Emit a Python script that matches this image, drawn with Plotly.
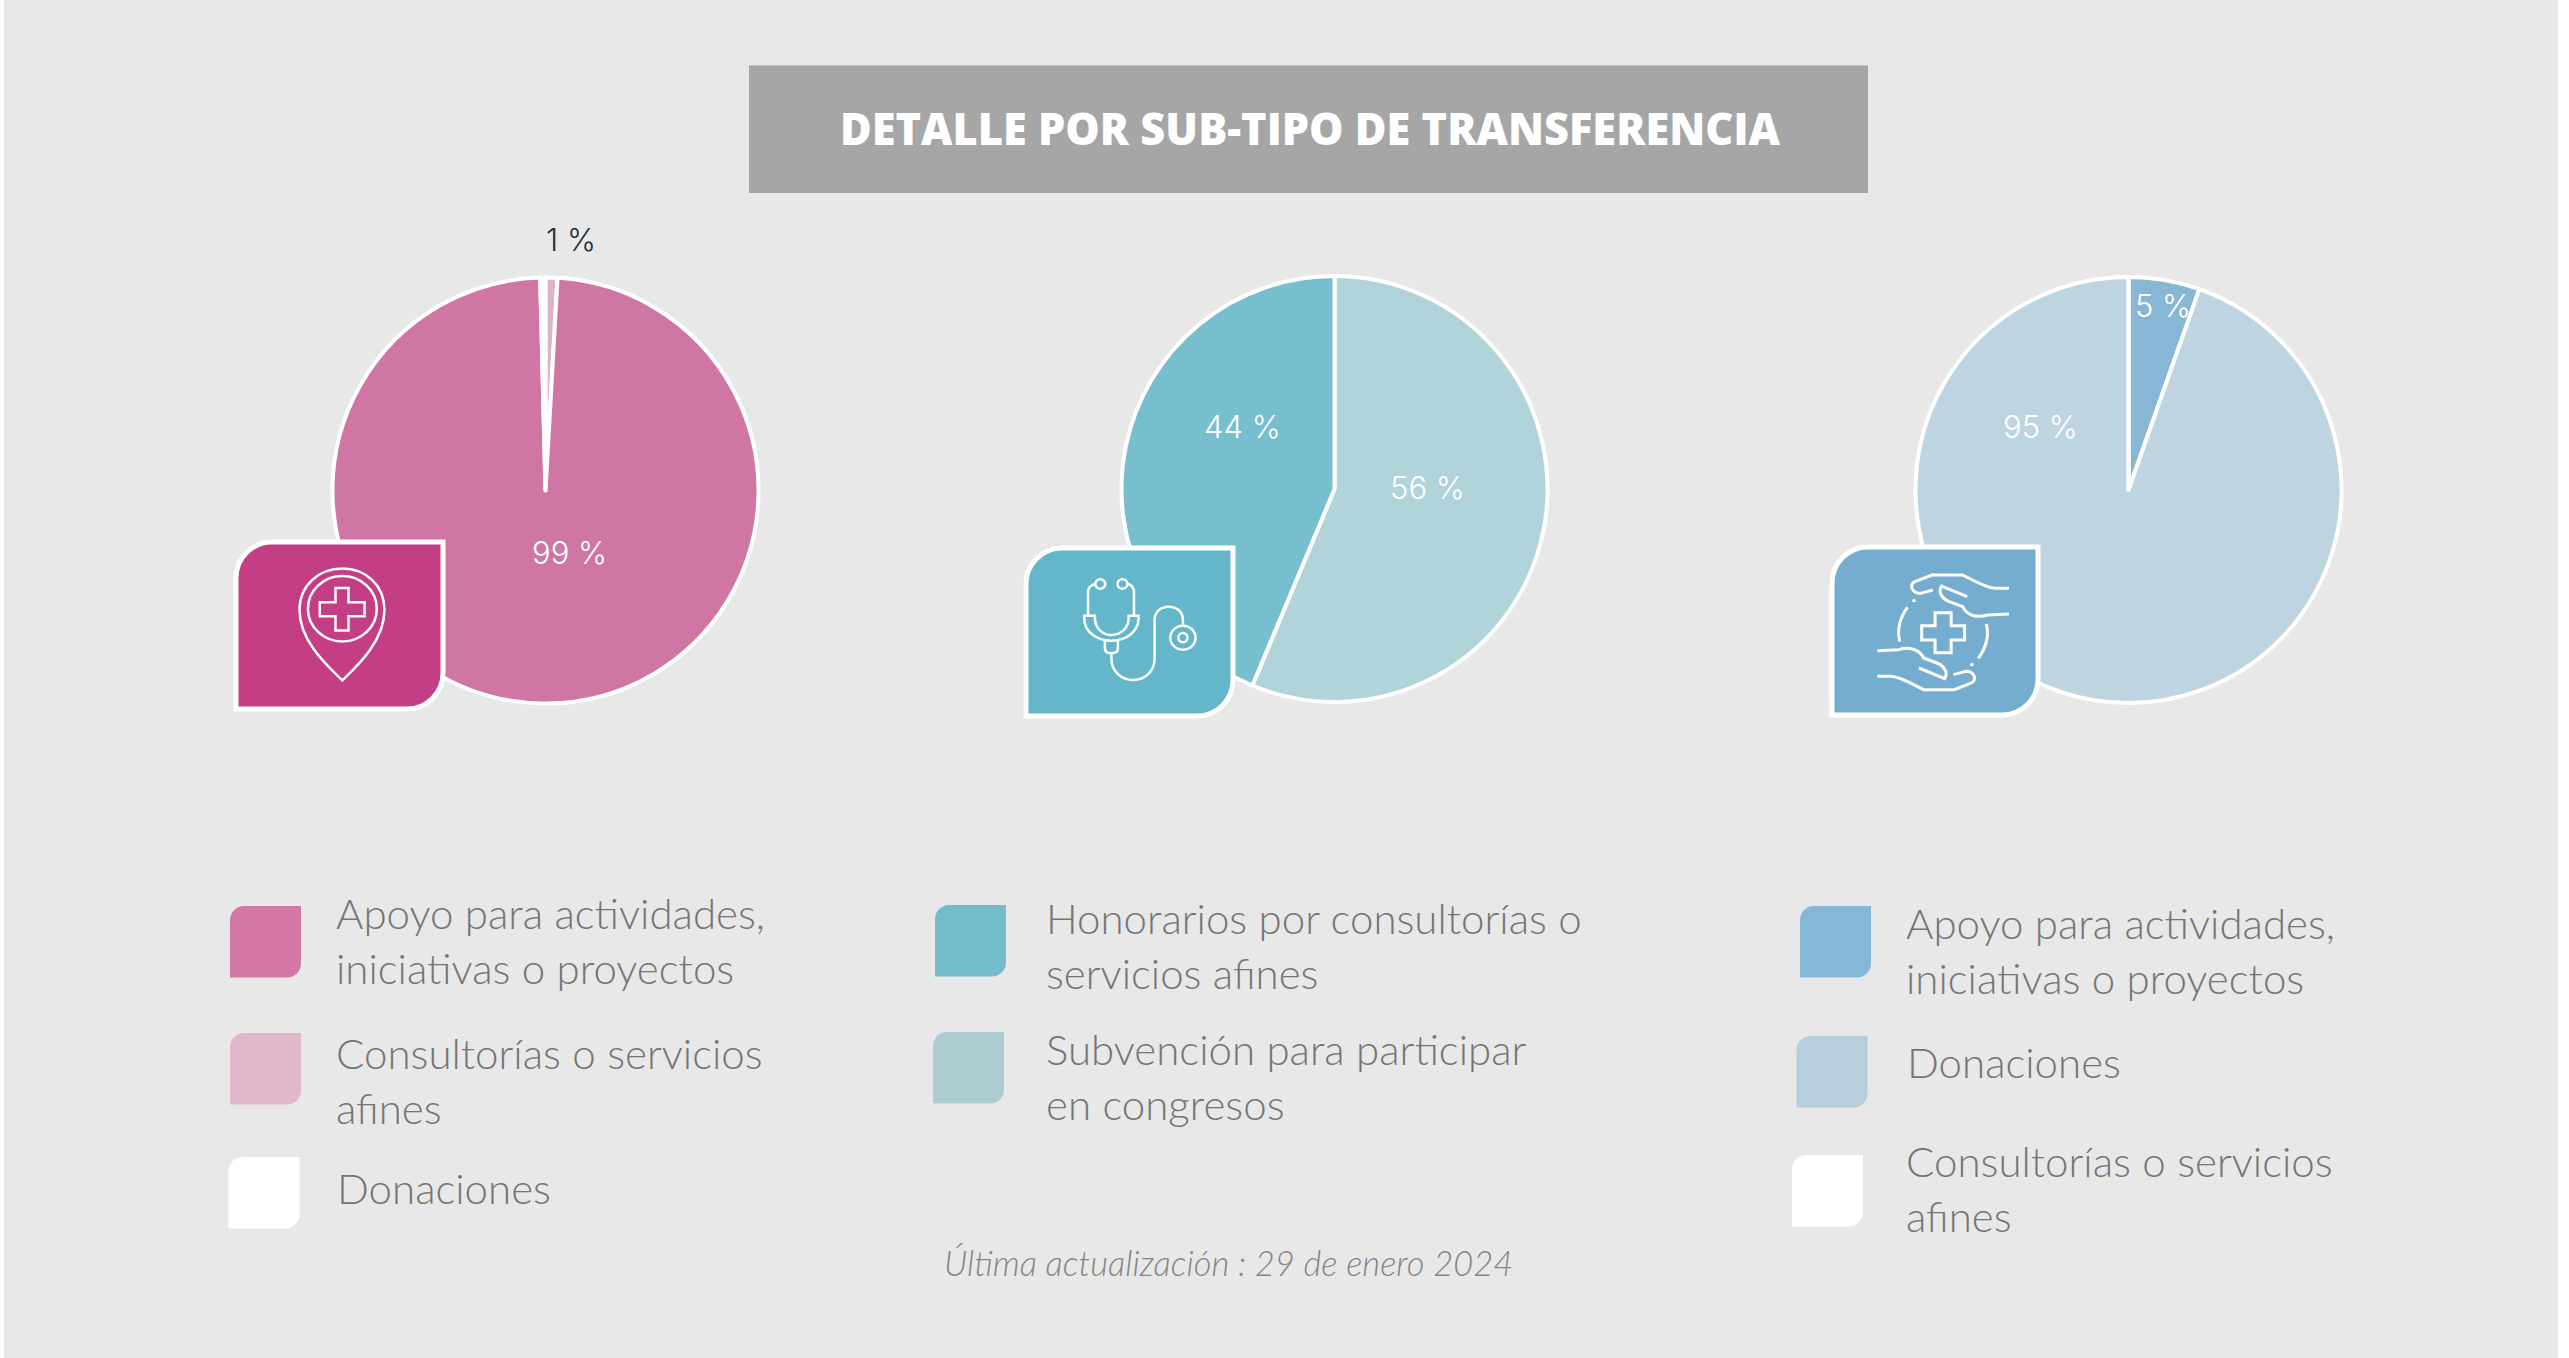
import re
import plotly.graph_objects as go

W, H = 2569, 1358

title_text = "DETALLE POR SUB-TIPO DE TRANSFERENCIA"
footer_text = "<i>Última actualización : 29 de enero 2024</i>"

pie1_labels = ["Consultorías o servicios afines", "Apoyo para actividades, iniciativas o proyectos", "Donaciones"]
pie1_values = [0.9, 98.7, 0.4]
pie1_colors = ["#DDB3CB", "#D076A5", "#FFFFFF"]

pie2_labels = ["Subvención para participar en congresos", "Honorarios por consultorías o servicios afines"]
pie2_values = [56.3, 43.7]
pie2_colors = ["#B1D4DA", "#77BECE"]

pie3_labels = ["Apoyo para actividades, iniciativas o proyectos", "Donaciones", "Consultorías o servicios afines"]
pie3_values = [5.4, 94.6, 0]
pie3_colors = ["#87B7D5", "#BED4E1", "#FFFFFF"]

BG = "#E8E8E8"
TXT = "#757575"
LEG_FONT = "Lato"

fig = go.Figure()


def fx(x):
    return x / W


def fy(y):
    return 1 - y / H


def add_pie(labels, values, colors, cx, cy, r):
    fig.add_trace(go.Pie(
        labels=labels, values=values, sort=False, direction="clockwise", rotation=0,
        marker=dict(colors=colors, line=dict(color="white", width=4)),
        textinfo="none", hoverinfo="label+percent", showlegend=False,
        domain=dict(x=[fx(cx - r), fx(cx + r)], y=[fy(cy + r), fy(cy - r)]),
    ))


add_pie(pie1_labels, pie1_values, pie1_colors, 545.5, 490.5, 213)
add_pie(pie2_labels, pie2_values, pie2_colors, 1334.5, 489, 213)
add_pie(pie3_labels, pie3_values, pie3_colors, 2128.5, 490, 213)


def xform(d, sx=1.0, sy=1.0, ox=0.0, oy=0.0):
    """Turn a path in pixel-like coordinates into paper coordinates."""
    out = []
    for tok in re.findall(r"[MLCQZ]|-?\d+\.?\d*(?:\s*,?\s*-?\d+\.?\d*)", d):
        if tok in "MLCQZ":
            out.append(tok)
        else:
            a, b = re.split(r"[\s,]+", tok.strip())
            out.append(f"{fx(float(a) / sx + ox):.6f},{fy(float(b) / sy + oy):.6f}")
    return " ".join(out)


def add_path(d, fill=None, line=None, lw=0, **kw):
    fig.add_shape(
        type="path", path=xform(d, **kw), xref="paper", yref="paper", layer="above",
        fillcolor=fill or "rgba(0,0,0,0)",
        line=dict(color=line or "rgba(0,0,0,0)", width=lw),
    )


def leaf(x0, y0, x1, y1, r):
    """Square with rounded top-left and bottom-right corners."""
    k = r * 0.45
    return (f"M {x0 + r} {y0} L {x1} {y0} L {x1} {y1 - r} "
            f"C {x1} {y1 - k} {x1 - k} {y1} {x1 - r} {y1} L {x0} {y1} L {x0} {y0 + r} "
            f"C {x0} {y0 + k} {x0 + k} {y0} {x0 + r} {y0} Z")


def ellipse(cx, cy, rx, ry):
    kx, ky = rx * 0.5523, ry * 0.5523
    return (f"M {cx - rx} {cy} C {cx - rx} {cy - ky} {cx - kx} {cy - ry} {cx} {cy - ry} "
            f"C {cx + kx} {cy - ry} {cx + rx} {cy - ky} {cx + rx} {cy} "
            f"C {cx + rx} {cy + ky} {cx + kx} {cy + ry} {cx} {cy + ry} "
            f"C {cx - kx} {cy + ry} {cx - rx} {cy + ky} {cx - rx} {cy} Z")


# White page edges either side of the grey panel
fig.add_shape(type="rect", xref="paper", yref="paper", layer="below",
              x0=fx(4), x1=fx(2558), y0=0, y1=1, fillcolor=BG, line_width=0)

# Icon cards
add_path(leaf(236, 542, 443, 709, 36), fill="#C43E85", line="white", lw=5)
add_path(leaf(1026, 548, 1233, 716, 36), fill="#64B7CB", line="white", lw=5)
add_path(leaf(1832, 547, 2038, 715, 36), fill="#75ADD0", line="white", lw=5)

# Pin icon
z1 = dict(sx=2.613, sy=2.904, ox=200, oy=200)
add_path("M 372 1395 C 340 1360 260 1285 260 1190 C 260 1120 310 1070 372 1070 "
         "C 434 1070 482 1120 482 1190 C 482 1285 404 1360 372 1395 Z", line="white", lw=2.5, **z1)
add_path(ellipse(372, 1187, 90, 95), line="white", lw=2.5, **z1)
add_path("M 354 1127 L 388 1127 L 388 1168 L 430 1168 L 430 1209 L 388 1209 L 388 1250 "
         "L 354 1250 L 354 1209 L 313 1209 L 313 1168 L 354 1168 Z", line="white", lw=2.5, **z1)

# Stethoscope icon
z2 = dict(sx=2.613, sy=3.0, ox=1000, oy=250)
steth = [
    ellipse(262, 1002, 13, 14), ellipse(320, 1002, 13, 14),
    "M 248 1002 C 236 1006 230 1014 230 1026 L 230 1097",
    "M 334 1002 C 346 1006 350 1014 350 1026 L 350 1097",
    "M 220 1097 L 248 1097 L 248 1105 C 248 1135 268 1155 291 1155 C 315 1155 336 1135 336 1105 "
    "L 336 1097 L 362 1097 L 362 1105 C 362 1145 330 1172 291 1172 C 252 1172 220 1145 220 1105 Z",
    "M 274 1172 L 274 1195 C 274 1205 280 1210 291 1210 C 302 1210 308 1205 308 1195 L 308 1172",
    "M 291 1210 L 291 1225 C 291 1265 318 1290 347 1290 C 378 1290 404 1265 404 1225 L 404 1110 "
    "C 404 1085 420 1070 441 1070 C 462 1070 478 1085 478 1110 L 478 1128",
    ellipse(478, 1163, 33, 36), ellipse(478, 1163, 12, 14),
]
for d in steth:
    add_path(d, line="white", lw=2.5, **z2)

# Hands icon
z3 = dict(sx=2.613, sy=3.0, ox=1800, oy=250)
hands = [
    "M 546 1015 L 510 1015 C 480 1012 445 985 425 975 L 345 975 L 300 995 C 285 1005 292 1030 315 1030 L 347 1020",
    "M 437 1040 L 370 1008 C 360 1025 370 1045 390 1055 L 425 1070 C 435 1095 460 1105 490 1095 L 546 1092",
    "M 202 1279 L 238 1279 C 268 1282 303 1309 323 1319 L 403 1319 L 448 1299 C 463 1289 456 1264 433 1264 L 401 1274",
    "M 311 1254 L 378 1286 C 388 1269 378 1249 358 1239 L 323 1224 C 313 1199 288 1189 258 1199 L 202 1202",
    "M 281 1072 C 262 1100 252 1140 261 1175",
    "M 487 1122 C 495 1160 485 1195 466 1225",
    "M 353 1088 L 395 1088 L 395 1127 L 430 1127 L 430 1170 L 395 1170 L 395 1208 "
    "L 353 1208 L 353 1170 L 318 1170 L 318 1127 L 353 1127 Z",
]
for d in hands:
    add_path(d, line="white", lw=3, **z3)
add_path(ellipse(298, 1052, 5, 5), fill="white", **z3)
add_path(ellipse(449, 1244, 5, 5), fill="white", **z3)

# Title bar
fig.add_shape(type="rect", xref="paper", yref="paper", layer="below",
              x0=fx(749), x1=fx(1868), y0=fy(193), y1=fy(65.5), fillcolor="#A6A6A6", line_width=0)


def text(x, y, s, size, color, family, anchor="left", weight=None):
    fig.add_annotation(
        x=fx(x), y=fy(y), xref="paper", yref="paper", text=s, showarrow=False,
        xanchor=anchor, yanchor="middle", align="left",
        font=dict(size=size, color=color, family=family, weight=weight),
    )


text(1310, 128, title_text, 43.3, "white", "Open Sans", "center", 800)

# Percentage labels, from the values
PCT = "Inter"
for v, x, y, c in [
    (pie1_values[0], 571, 239, "#1F2D3D"), (pie1_values[1], 569.5, 552, "white"),
    (pie2_values[1], 1242, 426, "white"), (pie2_values[0], 1427, 487, "white"),
    (pie3_values[0], 2162.5, 306, "white"), (pie3_values[1], 2040.5, 426, "white"),
]:
    text(x, y, f"{round(v)} %", 31, c, PCT, "center", 300)

# Legends
legend_rows = [
    (230, 906, "#D277A6", 334, 940.5, "Apoyo para actividades,<br>iniciativas o proyectos"),
    (230, 1033, "#E2B6CB", 334, 1080, "Consultorías o servicios<br>afines"),
    (228.5, 1157, "#FFFFFF", 334.5, 1188, "Donaciones"),
    (935, 905, "#74BCCC", 1043.5, 945.5, "Honorarios por consultorías o<br>servicios afines"),
    (933, 1032, "#ACCCD2", 1043.5, 1076, "Subvención para participar<br>en congresos"),
    (1800, 906, "#85B7D6", 1903.5, 950.5, "Apoyo para actividades,<br>iniciativas o proyectos"),
    (1796.5, 1036, "#B7CEDD", 1904.5, 1062, "Donaciones"),
    (1792, 1155, "#FFFFFF", 1903.5, 1188.5, "Consultorías o servicios<br>afines"),
]
for x0, y0, col, tx, ty, s in legend_rows:
    w = 71
    add_path(leaf(x0, y0, x0 + w, y0 + 71.5, 14), fill=col)
    text(tx, ty, s, 42, TXT, LEG_FONT, "left", 300)

text(1228, 1262, footer_text, 34.5, "#858585", LEG_FONT, "center", 300)

fig.update_layout(
    width=W, height=H, margin=dict(l=0, r=0, t=0, b=0),
    paper_bgcolor="white", plot_bgcolor=BG, showlegend=False,
)

fig.write_html("out.html", config=dict(displayModeBar=False),
               post_script="document.body.style.margin='0';document.body.style.overflow='hidden';")
